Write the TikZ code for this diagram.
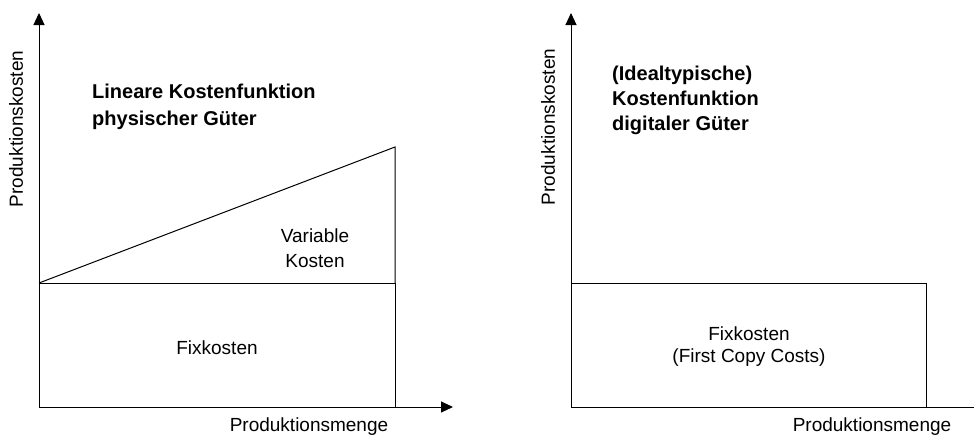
\documentclass[tikz,border=0pt]{standalone}
\usepackage{fontspec}
\setmainfont{Liberation Sans}
\usetikzlibrary{arrows.meta}
\tikzset{
  achse/.style={line width=1pt, -{Triangle[length=12pt,width=11pt]}},
  linie/.style={line width=1pt},
  txt/.style={font=\fontsize{19}{25}\selectfont, align=center, inner sep=0pt},
  titel/.style={font=\bfseries\fontsize{20}{27}\selectfont, align=left, inner sep=0pt, anchor=west},
}
\begin{document}
\begin{tikzpicture}[x=1pt,y=-1pt]
  \useasboundingbox (0,0) rectangle (974,439);

  % linkes Diagramm
  \coordinate (O1) at (39,407);
  \coordinate (Y1) at (39,13);
  \coordinate (X1) at (453,407);
  \coordinate (F1) at (39,283);
  \coordinate (G1) at (395,283);
  \coordinate (H1) at (395,407);
  \coordinate (V1) at (395,147);
  \draw[achse] (O1) -- (Y1);
  \draw[achse] (O1) -- (X1);
  \draw[linie] (F1) -- (G1) -- (H1);
  \draw[linie] (F1) -- (V1) -- (G1);

  \node[txt, rotate=90] (PK1) at (16,129) {Produktionskosten};
  \node[txt] (PM1) at (309,427) {Produktionsmenge};
  \node[titel] (T1) at (92,106.5) {Lineare Kostenfunktion\\physischer Güter};
  \node[txt] (VK1) at (315,248.5) {Variable\\Kosten};
  \node[txt] (FK1) at (217,348) {Fixkosten};

  % rechtes Diagramm
  \coordinate (O2) at (571,407);
  \coordinate (Y2) at (571,13);
  \coordinate (X2) at (974,407);
  \coordinate (F2) at (571,283);
  \coordinate (G2) at (926,283);
  \coordinate (H2) at (926,407);
  \draw[achse] (O2) -- (Y2);
  \draw[linie] (O2) -- (X2);
  \draw[linie] (F2) -- (G2) -- (H2);

  \node[txt, rotate=90] (PK2) at (548,127) {Produktionskosten};
  \node[txt] (PM2) at (872,427) {Produktionsmenge};
  \node[titel, font=\bfseries\fontsize{20}{25}\selectfont] (T2) at (612,100) {(Idealtypische)\\Kostenfunktion\\digitaler Güter};
  \node[txt, font=\fontsize{19}{22}\selectfont] (FK2) at (749,347) {Fixkosten\\(First Copy Costs)};
\end{tikzpicture}
\end{document}
